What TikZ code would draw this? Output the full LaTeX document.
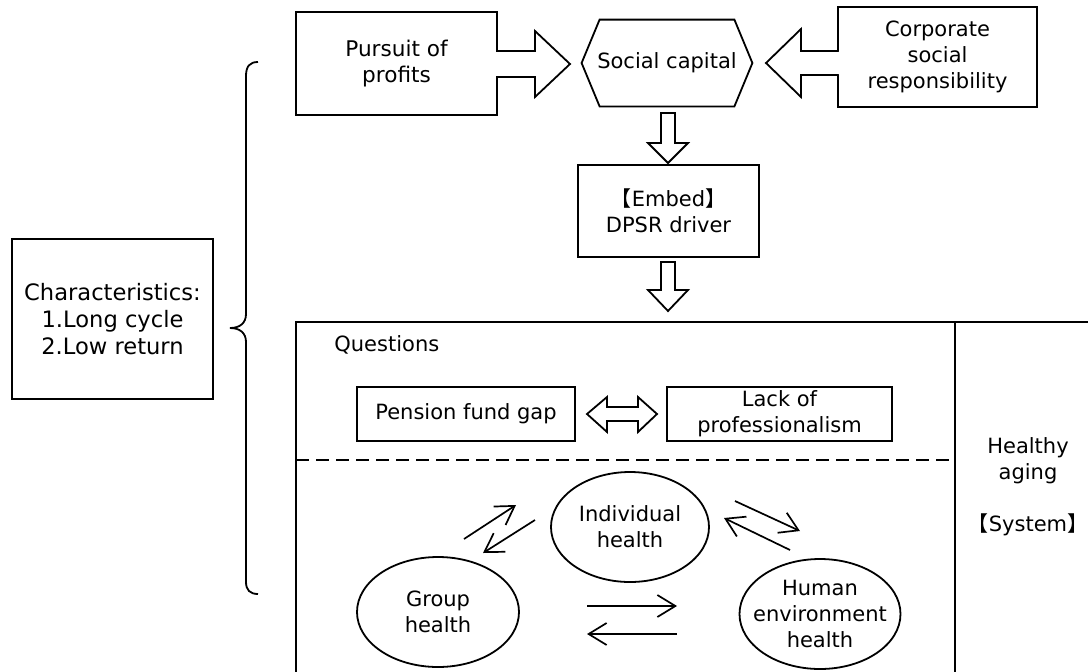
\documentclass[tikz,border=0pt]{standalone}
\usepackage{fontspec}
\setmainfont{DejaVu Sans}
\newfontfamily\cjkf[RawFeature={+halt}]{Noto Sans CJK SC}
\usetikzlibrary{arrows.meta,calc}
\begin{document}
\begin{tikzpicture}[x=0.5pt,y=-0.5pt,
  every node/.style={font=\fontsize{10.5}{13}\selectfont, align=center, inner sep=0pt},
  boxn/.style={draw, line width=0.9pt},
  blk/.style={draw, line width=0.9pt, fill=white, line join=miter},
  shape line/.style={draw, line width=0.9pt},
  thinarrow/.style={line width=0.85pt, -{Straight Barb[length=9pt,width=11pt]}}]
\useasboundingbox (0,0) rectangle (1088,671);

% top nodes
\node[boxn, minimum width=100.5pt, minimum height=51.5pt, font=\fontsize{10.8}{13.2}\selectfont] (pursuit) at (396.5,63.5) {Pursuit of\\profits};
\node[minimum width=85pt, minimum height=43pt] (hex) at (667,63) {Social capital};
\draw[shape line, line join=miter] (hex.west) -- ($(hex.north west)+(18,0)$) -- ($(hex.north east)+(-18,0)$) -- (hex.east) -- ($(hex.south east)+(-18,0)$) -- ($(hex.south west)+(18,0)$) -- cycle;
\node[boxn, minimum width=99.5pt, minimum height=50pt] (corp) at (937.5,57) {Corporate\\social\\responsibility};
\node[boxn, minimum width=90.5pt, minimum height=46pt] (embed) at (668.5,211) {{\cjkf 【}Embed{\cjkf 】}\\DPSR driver};
\node[boxn, minimum width=100.5pt, minimum height=80pt, font=\fontsize{11.3}{13.3}\selectfont] (charac) at (112.5,319) {Characteristics:\\1.Long cycle\\2.Low return};

% block arrows
\fill[white] (495.5,52) rectangle (498.5,76);
\draw[blk] (497,51) -- (535,51) -- (535,31) -- (570,64) -- (535,97) -- (535,77) -- (497,77);
\fill[white] (836.5,52) rectangle (839.5,74);
\draw[blk] (838,51) -- (801,51) -- (801,29) -- (766,63) -- (801,97) -- (801,75) -- (838,75);
\draw[blk] (661,113) -- (675,113) -- (675,143) -- (688,143) -- (668,163) -- (648,143) -- (661,143) -- cycle;
\draw[blk] (661,262) -- (675,262) -- (675,290) -- (688,290) -- (668,311) -- (648,290) -- (661,290) -- cycle;

% brace
\draw[line width=0.9pt] (258,62) .. controls (250,62) and (246,66) .. (246,76) -- (246,314) .. controls (246,323) and (240,328) .. (230,328) .. controls (240,328) and (246,333) .. (246,342) -- (246,582) .. controls (246,590) and (250,594) .. (258,594);

% bottom frame
\draw[line width=0.9pt] (1092,322) -- (296,322) -- (296,675);
\draw[line width=0.9pt] (955,322) -- (955,675);
\draw[line width=0.9pt, dash pattern=on 6.5pt off 3.5pt] (296,460) -- (955,460);

\node[anchor=west] (quest) at (334,345) {Questions};
\node[boxn, minimum width=109pt, minimum height=27pt] (pension) at (466,414) {Pension fund gap};
\node[boxn, minimum width=112.5pt, minimum height=27pt] (lack) at (779.5,414) {Lack of\\professionalism};
\draw[blk] (587,414) -- (607,397) -- (607,407) -- (638,407) -- (638,397) -- (657,414) -- (638,432) -- (638,421) -- (607,421) -- (607,432) -- cycle;

\node (healthy) at (1028,487) {Healthy\\aging\\[13pt]{\cjkf 【}System{\cjkf 】}};

% ellipses
\node (indiv) at (630,527) {Individual\\health};
\draw[line width=0.9pt] (indiv.center) ellipse [x radius=79, y radius=55];
\node (group) at (438,612) {Group\\health};
\draw[line width=0.9pt] (group.center) ellipse [x radius=81, y radius=55];
\node (human) at (820,614) {Human\\environment\\health};
\draw[line width=0.9pt] (human.center) ellipse [x radius=80.5, y radius=55];

% thin arrows
\coordinate (a1s) at (464,539); \coordinate (a1e) at (516,505);
\coordinate (a2s) at (535,520); \coordinate (a2e) at (483,553);
\coordinate (a3s) at (735,501); \coordinate (a3e) at (800,531);
\coordinate (a4s) at (790,550); \coordinate (a4e) at (724,518);
\coordinate (a5s) at (587,606); \coordinate (a5e) at (677,606);
\coordinate (a6s) at (677,634); \coordinate (a6e) at (587,634);
\draw[thinarrow] (a1s) -- (a1e);
\draw[thinarrow] (a2s) -- (a2e);
\draw[thinarrow] (a3s) -- (a3e);
\draw[thinarrow] (a4s) -- (a4e);
\draw[thinarrow] (a5s) -- (a5e);
\draw[thinarrow] (a6s) -- (a6e);
\end{tikzpicture}
\end{document}
